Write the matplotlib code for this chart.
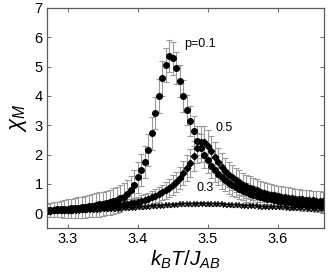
import matplotlib
matplotlib.use("Agg")
import matplotlib.pyplot as plt

# temperatures (k_B T / J_AB)
temps = [3.270, 3.275, 3.280, 3.285, 3.290, 3.295, 3.300, 3.305, 3.310, 3.315,
         3.320, 3.325, 3.330, 3.335, 3.340, 3.345, 3.350, 3.355, 3.360, 3.365,
         3.370, 3.375, 3.380, 3.385, 3.390, 3.395, 3.400, 3.405, 3.410, 3.415,
         3.420, 3.425, 3.430, 3.435, 3.440, 3.445, 3.450, 3.455, 3.460, 3.465,
         3.470, 3.475, 3.480, 3.485, 3.490, 3.495, 3.500, 3.505, 3.510, 3.515,
         3.520, 3.525, 3.530, 3.535, 3.540, 3.545, 3.550, 3.555, 3.560, 3.565,
         3.570, 3.575, 3.580, 3.585, 3.590, 3.595, 3.600, 3.605, 3.610, 3.615,
         3.620, 3.625, 3.630, 3.635, 3.640, 3.645, 3.650, 3.655, 3.660, 3.665]

# p = 0.1
chi_p1 = [0.10, 0.11, 0.12, 0.13, 0.14, 0.15, 0.16, 0.17, 0.18, 0.19,
          0.21, 0.22, 0.24, 0.26, 0.28, 0.30, 0.32, 0.35, 0.38, 0.42,
          0.46, 0.51, 0.57, 0.65, 0.78, 0.98, 1.22, 1.48, 1.75, 2.15,
          2.72, 3.42, 4.00, 4.60, 5.05, 5.35, 5.28, 4.95, 4.50, 4.00,
          3.52, 3.14, 2.80, 2.48, 2.22, 2.00, 1.80, 1.62, 1.47, 1.34,
          1.22, 1.12, 1.03, 0.95, 0.88, 0.82, 0.76, 0.71, 0.66, 0.62,
          0.58, 0.55, 0.52, 0.49, 0.47, 0.45, 0.43, 0.41, 0.39, 0.37,
          0.36, 0.34, 0.33, 0.32, 0.31, 0.30, 0.29, 0.28, 0.27, 0.26]
err_p1 = [0.22, 0.24, 0.25, 0.27, 0.28, 0.30, 0.31, 0.33, 0.34, 0.35,
          0.36, 0.37, 0.38, 0.39, 0.40, 0.41, 0.42, 0.42, 0.43, 0.44,
          0.45, 0.45, 0.46, 0.47, 0.48, 0.50, 0.52, 0.54, 0.55, 0.55,
          0.55, 0.55, 0.58, 0.60, 0.58, 0.55, 0.55, 0.55, 0.55, 0.55,
          0.52, 0.52, 0.50, 0.50, 0.48, 0.46, 0.44, 0.42, 0.40, 0.39,
          0.38, 0.37, 0.36, 0.35, 0.34, 0.33, 0.32, 0.31, 0.30, 0.30,
          0.29, 0.28, 0.28, 0.27, 0.27, 0.26, 0.26, 0.25, 0.25, 0.24,
          0.24, 0.24, 0.23, 0.23, 0.23, 0.22, 0.22, 0.22, 0.21, 0.21]

# p = 0.5
chi_p5 = [0.09, 0.09, 0.10, 0.10, 0.11, 0.11, 0.12, 0.12, 0.13, 0.14,
          0.15, 0.16, 0.17, 0.18, 0.19, 0.20, 0.21, 0.22, 0.23, 0.25,
          0.26, 0.28, 0.30, 0.32, 0.34, 0.36, 0.39, 0.42, 0.45, 0.49,
          0.54, 0.59, 0.65, 0.71, 0.78, 0.86, 0.96, 1.07, 1.20, 1.36,
          1.53, 1.72, 1.95, 2.22, 2.42, 2.43, 2.30, 2.12, 1.92, 1.74,
          1.58, 1.44, 1.32, 1.22, 1.13, 1.05, 0.98, 0.92, 0.87, 0.82,
          0.78, 0.74, 0.70, 0.67, 0.64, 0.61, 0.59, 0.57, 0.55, 0.53,
          0.51, 0.50, 0.48, 0.47, 0.46, 0.45, 0.44, 0.43, 0.42, 0.41]
err_p5 = [0.05, 0.05, 0.05, 0.06, 0.06, 0.06, 0.07, 0.07, 0.07, 0.08,
          0.08, 0.08, 0.09, 0.09, 0.10, 0.10, 0.11, 0.11, 0.12, 0.12,
          0.13, 0.14, 0.14, 0.15, 0.16, 0.17, 0.18, 0.19, 0.20, 0.21,
          0.22, 0.24, 0.25, 0.27, 0.29, 0.31, 0.33, 0.35, 0.38, 0.41,
          0.44, 0.47, 0.50, 0.52, 0.55, 0.56, 0.55, 0.53, 0.51, 0.49,
          0.47, 0.45, 0.44, 0.43, 0.42, 0.41, 0.40, 0.39, 0.39, 0.38,
          0.38, 0.37, 0.37, 0.36, 0.36, 0.36, 0.35, 0.35, 0.35, 0.35,
          0.34, 0.34, 0.34, 0.34, 0.34, 0.33, 0.33, 0.33, 0.33, 0.33]

# p = 0.3
chi_p3 = [0.06, 0.06, 0.07, 0.07, 0.07, 0.08, 0.08, 0.08, 0.09, 0.09,
          0.10, 0.10, 0.11, 0.11, 0.12, 0.12, 0.13, 0.13, 0.14, 0.15,
          0.15, 0.16, 0.17, 0.18, 0.18, 0.19, 0.20, 0.21, 0.22, 0.23,
          0.24, 0.25, 0.26, 0.26, 0.27, 0.28, 0.29, 0.29, 0.30, 0.30,
          0.31, 0.31, 0.31, 0.32, 0.32, 0.32, 0.31, 0.31, 0.31, 0.30,
          0.30, 0.29, 0.29, 0.28, 0.28, 0.27, 0.26, 0.26, 0.25, 0.25,
          0.24, 0.23, 0.23, 0.22, 0.22, 0.21, 0.21, 0.20, 0.20, 0.19,
          0.19, 0.18, 0.18, 0.17, 0.17, 0.16, 0.16, 0.15, 0.15, 0.14]
err_p3 = [0.03, 0.03, 0.03, 0.03, 0.03, 0.03, 0.03, 0.03, 0.03, 0.03,
          0.03, 0.03, 0.03, 0.03, 0.03, 0.04, 0.04, 0.04, 0.04, 0.04,
          0.04, 0.04, 0.04, 0.04, 0.04, 0.04, 0.04, 0.05, 0.05, 0.05,
          0.05, 0.05, 0.05, 0.05, 0.05, 0.05, 0.05, 0.05, 0.05, 0.05,
          0.05, 0.05, 0.05, 0.05, 0.05, 0.05, 0.05, 0.05, 0.05, 0.05,
          0.05, 0.05, 0.05, 0.05, 0.05, 0.05, 0.05, 0.04, 0.04, 0.04,
          0.04, 0.04, 0.04, 0.04, 0.04, 0.04, 0.04, 0.04, 0.04, 0.04,
          0.04, 0.04, 0.04, 0.04, 0.04, 0.04, 0.04, 0.04, 0.04, 0.04]

xticks = [3.3, 3.4, 3.5, 3.6]
yticks = [0, 1, 2, 3, 4, 5, 6, 7]

plt.rcParams['font.family'] = ['Liberation Sans', 'DejaVu Sans']
plt.rcParams['mathtext.fontset'] = 'custom'
plt.rcParams['mathtext.it'] = 'Liberation Sans:italic'
plt.rcParams['mathtext.rm'] = 'Liberation Sans'

fig = plt.figure(figsize=(3.3, 2.73), dpi=100)
ax = fig.add_axes([0.142, 0.165, 0.840, 0.806])

ebar = dict(fmt='none', ecolor='#9a9a9a', elinewidth=0.8, capsize=2, capthick=0.8)
ax.errorbar(temps, chi_p3, yerr=err_p3, **ebar)
ax.errorbar(temps, chi_p5, yerr=err_p5, **ebar)
ax.errorbar(temps, chi_p1, yerr=err_p1, **ebar)

ax.plot(temps, chi_p3, ls='none', marker='*', ms=4.5, color='black', mew=0.3)
ax.plot(temps, chi_p5, ls='none', marker='D', ms=3.3, color='black')
ax.plot(temps, chi_p1, ls='none', marker='o', ms=4.0, color='black')

ax.text(3.466, 5.78, 'p=0.1', fontsize=9, va='center')
ax.text(3.511, 2.91, '0.5', fontsize=9, va='center')
ax.text(3.484, 0.87, '0.3', fontsize=9, va='center')

ax.set_xlim(3.27, 3.666)
ax.set_ylim(-0.5, 7)
ax.set_xticks(xticks)
ax.set_xticklabels(['3.3', '3.4', '3.5', '3.6'])
ax.set_yticks(yticks)
ax.tick_params(direction='in', top=True, right=True, length=3, width=0.6,
               color='#555555', labelsize=10.5, pad=3)
for sp in ax.spines.values():
    sp.set_color('#5a5a5a')
    sp.set_linewidth(0.9)

ax.set_xlabel(r'$k_BT/J_{AB}$', fontsize=15, labelpad=2)
ax.set_ylabel(r'$\chi_M$', fontsize=16, labelpad=4)

fig.savefig('out.png', dpi=100)
